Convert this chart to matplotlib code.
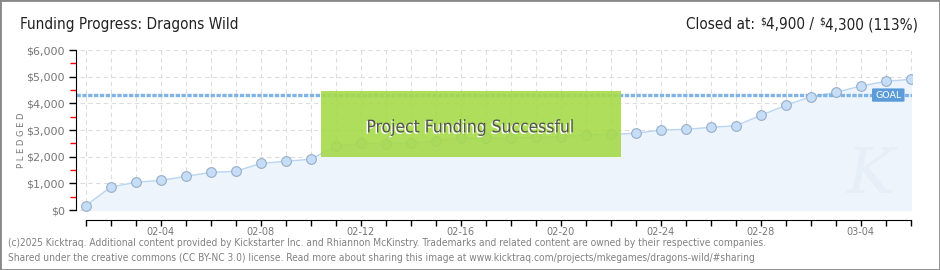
import matplotlib
matplotlib.use("Agg")
import matplotlib.pyplot as plt
from matplotlib.patches import Rectangle, FancyBboxPatch
import matplotlib.patheffects as pe

# data (daily pledged totals, 02-01 .. 03-06)
dates = ["02-01", "02-02", "02-03", "02-04", "02-05", "02-06", "02-07", "02-08",
         "02-09", "02-10", "02-11", "02-12", "02-13", "02-14", "02-15", "02-16",
         "02-17", "02-18", "02-19", "02-20", "02-21", "02-22", "02-23", "02-24",
         "02-25", "02-26", "02-27", "02-28", "03-01", "03-02", "03-03", "03-04",
         "03-05", "03-06"]
pledged = [165, 860, 1040, 1110, 1260, 1410, 1450, 1750, 1825, 1905,
           2390, 2500, 2490, 2500, 2600, 2690, 2690, 2700, 2725, 2750,
           2810, 2840, 2875, 3000, 3025, 3100, 3160, 3550, 3925, 4250,
           4410, 4650, 4825, 4900]
goal = 4300
yticks = [0, 1000, 2000, 3000, 4000, 5000, 6000]
ytick_labels = ["\\$0", "\\$1,000", "\\$2,000", "\\$3,000", "\\$4,000", "\\$5,000", "\\$6,000"]

fnt = dict(fontfamily="DejaVu Sans", fontstretch="condensed")

fig = plt.figure(figsize=(9.4, 2.7), dpi=100)
W, H = 940, 270
ax = fig.add_axes([76 / W, 1 - 220 / H, (912 - 76) / W, 170 / H])
x = list(range(len(dates)))
ax.set_xlim(-0.39, 33.05)
ax.set_ylim(-375, 6000)
ax.patch.set_visible(False)

# grid
ax.hlines(yticks, -0.25, 33, colors="#dddddd", linestyles=(0, (4, 3)), lw=0.8, zorder=0)
ax.vlines(x, 0, 6000, colors="#dddddd", linestyles=(0, (4, 3)), lw=0.8, zorder=0)

ax.fill_between(x, 0, pledged, color="#edf4fc", zorder=1)
# faint watermark
ax.text(31.4, 1300, "K", fontsize=46, style="italic", color="#e6eef8",
        ha="center", va="center", fontfamily="DejaVu Serif", zorder=1.5)
ax.plot(x, pledged, color="#b9d5f2", lw=1, zorder=2)
ax.plot(x, pledged, "o", ms=7, mfc="#c5ddf6", mec="#98aec8", mew=0.8, zorder=3)
ax.axhline(goal, xmin=0, xmax=1, color="#80b3e6", lw=2.4, ls=(0, (1.3, 0.45)), zorder=2)

# goal tag
ax.add_patch(FancyBboxPatch((31.45, goal - 240), 1.3, 500,
                            boxstyle="round,pad=0,rounding_size=0.08",
                            fc="#5b9bd9", ec="none", zorder=4,
                            mutation_aspect=300))
ax.text(32.1, goal + 10, "GOAL", color="white", fontsize=6.8, fontfamily="DejaVu Sans",
        ha="center", va="center", zorder=5)

# success banner
ax.add_patch(Rectangle((9.4, 1980), 12.0, 2480, fc="#a6da4a", ec="none",
                       alpha=0.9, zorder=6))
ax.text(15.4, 3100, "Project Funding Successful", fontsize=12.5, color="#555555",
        ha="center", va="center", zorder=7, **fnt,
        path_effects=[pe.withSimplePatchShadow(offset=(-1, -1), shadow_rgbFace="white", alpha=1)])

# axes
for s in ["top", "right"]:
    ax.spines[s].set_visible(False)
ax.spines["left"].set_bounds(0, 6000)
ax.spines["bottom"].set_bounds(0, 33)
ax.spines["bottom"].set_position(("data", -375))
ax.set_yticks(yticks)
ax.set_yticklabels(ytick_labels, color="#777777", fontsize=8)
ax.set_yticks([500, 1500, 2500, 3500, 4500, 5500], minor=True)
ax.tick_params(axis="y", which="major", length=5, width=1, color="black", pad=3)
ax.tick_params(axis="y", which="minor", length=4, width=1, color="red")
ax.set_xticks(x)
ax.set_xticklabels([d if (i - 3) % 4 == 0 else "" for i, d in enumerate(dates)],
                   color="#777777", fontsize=7)
ax.tick_params(axis="x", length=4, width=1, color="black", pad=1)
ax.set_ylabel("P L E D G E D", fontsize=6, color="#777777")
ax.yaxis.set_label_coords(-50 / 836, 0.47)

# header
base = 1 - 29 / H
fig.text(20 / W, base, "Funding Progress: Dragons Wild", fontsize=11,
         color="#222222", va="baseline", **fnt)

# right header, laid out right to left with small raised dollar signs
fig.canvas.draw()
r = fig.canvas.get_renderer()
pieces = [("4,300 (113%)", 11, False), ("\\$", 7.5, True), ("4,900 / ", 11, False),
          ("\\$", 7.5, True), ("Closed at: ", 11, False)]
xr = 918
for s, fs, sup in pieces:
    y = base + (5 / H if sup else 0)
    tt = fig.text(xr / W, y, s, fontsize=fs, color="#222222", ha="right",
                  va="baseline", **fnt)
    w = tt.get_window_extent(r).width
    xr -= w + (1 if sup else 0)

# footer
fig.text(8 / W, 1 - 243 / H,
         "(c)2025 Kicktraq. Additional content provided by Kickstarter Inc. and Rhiannon McKinstry. "
         "Trademarks and related content are owned by their respective companies.",
         fontsize=7.3, color="#808080", va="center", **fnt)
fig.text(8 / W, 1 - 258 / H,
         "Shared under the creative commons (CC BY-NC 3.0) license. Read more about sharing this image at "
         "www.kicktraq.com/projects/mkegames/dragons-wild/#sharing",
         fontsize=7.3, color="#808080", va="center", **fnt)

# border
fig.patches.append(Rectangle((0, 0), 1, 1, transform=fig.transFigure, fill=False,
                             ec="#888888", lw=2))

fig.savefig("out.png", dpi=100)
